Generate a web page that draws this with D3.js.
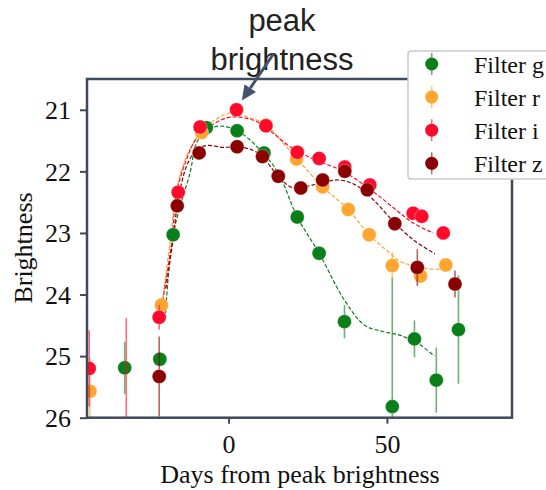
<!DOCTYPE html>
<html>
<head>
<meta charset="utf-8">
<script src="https://cdn.jsdelivr.net/npm/d3@7"></script>
<style>
  body { margin: 0; background: #fff; }
  svg { display: block; }
</style>
</head>
<body>
<svg width="546" height="490"></svg>
<script>
// observations per filter: day, brightness, error
const filters = ["Filter g", "Filter r", "Filter i", "Filter z"];
const colors = ["#0a7f1a", "#ffa530", "#ff0a2a", "#8b0000"];

const days_g = [-32.8, -21.7, -17.5, -7.0, 2.7, 11.2, 21.7, 28.6, 36.6, 51.7, 58.7, 65.6, 72.6];
const mag_g  = [25.19, 25.05, 23.03, 21.29, 21.34, 21.70, 22.74, 23.33, 24.44, 25.82, 24.72, 25.39, 24.57];
const err_g  = [0.42, 0.10, 0.08, 0.05, 0.05, 0.05, 0.05, 0.08, 0.27, 2.1, 0.30, 0.53, 0.88];

const days_r = [-43.8, -21.2, -8.5, 11.8, 21.5, 29.7, 37.8, 44.4, 51.7, 60.6, 68.6];
const mag_r  = [25.57, 24.17, 21.37, 21.25, 21.80, 22.25, 22.62, 23.03, 23.53, 23.70, 23.52];
const err_r  = [0.55, 0.12, 0.05, 0.05, 0.05, 0.05, 0.05, 0.05, 0.22, 0.10, 0.10];

const days_i = [-44.0, -32.3, -21.9, -15.9, -9.0, 2.5, 11.8, 21.7, 28.6, 36.7, 44.6, 58.3, 61.0, 67.8];
const mag_i  = [25.20, 26.40, 24.37, 22.34, 21.28, 21.00, 21.26, 21.69, 21.79, 21.93, 22.22, 22.68, 22.73, 23.00];
const err_i  = [0.62, 2.02, 0.20, 0.05, 0.05, 0.05, 0.05, 0.05, 0.05, 0.05, 0.05, 0.05, 0.05, 0.05];

const days_z = [-21.9, -16.2, -9.3, 2.7, 10.7, 15.7, 22.8, 29.7, 36.7, 43.8, 52.5, 59.6, 71.5];
const mag_z  = [25.33, 22.56, 21.70, 21.60, 21.76, 22.08, 22.27, 22.14, 22.00, 22.30, 22.85, 23.56, 23.83];
const err_z  = [0.65, 0.05, 0.05, 0.05, 0.05, 0.05, 0.05, 0.05, 0.05, 0.05, 0.05, 0.30, 0.22];

// smoothed fits
const fit_g_days = [-20.0, -17.5, -12.2, -9.6, -3.8, 2.7, 9.9, 15.7, 21.7, 28.6, 36.7, 43.0, 48.7, 54.0, 60.0, 65.0];
const fit_g_mag  = [24.40, 23.03, 22.03, 21.49, 21.27, 21.34, 21.65, 22.03, 22.74, 23.33, 24.10, 24.50, 24.60, 24.66, 24.80, 25.00];

const fit_r_days = [-21.0, -18.5, -16.4, -13.3, -9.6, -5.9, 0.9, 6.7, 11.8, 17.2, 21.7, 29.7, 37.8, 44.4, 51.0, 54.1, 61.5, 66.7];
const fit_r_mag  = [24.15, 23.17, 22.30, 21.76, 21.43, 21.22, 21.05, 21.13, 21.24, 21.54, 21.80, 22.25, 22.62, 23.03, 23.33, 23.46, 23.57, 23.59];

const fit_i_days = [-20.8, -18.0, -16.4, -13.3, -10.1, -5.9, -0.6, 3.6, 8.8, 14.1, 19.4, 26.7, 36.2, 45.7, 53.0, 58.3, 64.6];
const fit_i_mag  = [24.10, 23.17, 22.35, 21.81, 21.46, 21.27, 21.13, 21.12, 21.19, 21.38, 21.60, 21.80, 22.00, 22.33, 22.63, 22.84, 23.00];

const fit_z_days = [-19.8, -17.5, -16.2, -13.3, -10.1, -7.0, -1.7, 2.7, 7.8, 10.7, 15.7, 20.4, 26.7, 34.6, 40.4, 45.7, 52.0, 58.3, 65.2];
const fit_z_mag  = [23.90, 23.10, 22.56, 21.92, 21.65, 21.58, 21.61, 21.60, 21.66, 21.76, 22.08, 22.27, 22.22, 22.14, 22.23, 22.46, 22.81, 23.11, 23.34];

const xTicks = [0, 50];
const yTicks = [21, 22, 23, 24, 25, 26];

const series = [
  {days: days_g, mag: mag_g, err: err_g, fd: fit_g_days, fm: fit_g_mag},
  {days: days_r, mag: mag_r, err: err_r, fd: fit_r_days, fm: fit_r_mag},
  {days: days_i, mag: mag_i, err: err_i, fd: fit_i_days, fm: fit_i_mag},
  {days: days_z, mag: mag_z, err: err_z, fd: fit_z_days, fm: fit_z_mag}
];

const svg = d3.select("svg");
const spine = "#3f4a5c";
const serif = "Liberation Serif, Times New Roman, serif";

const x = d3.scaleLinear().domain([-44.7, 89.5]).range([87, 512]);
const y = d3.scaleLinear().domain([20.5, 26]).range([79, 417.7]);

svg.append("clipPath").attr("id", "plot")
   .append("rect")
   .attr("x", 87).attr("y", 79)
   .attr("width", 512 - 87).attr("height", 417.7 - 79);

const g = svg.append("g").attr("clip-path", "url(#plot)");

const line = d3.line()
  .x(d => x(d[0]))
  .y(d => y(d[1]))
  .curve(d3.curveCatmullRom.alpha(0.5));

series.forEach(function(s, k) {
  g.append("path")
   .datum(d3.zip(s.fd, s.fm))
   .attr("fill", "none")
   .attr("stroke", colors[k])
   .attr("stroke-width", 1.2)
   .attr("stroke-dasharray", "4,2")
   .attr("d", line);
});

series.forEach(function(s, k) {
  const pts = d3.zip(s.days, s.mag, s.err);
  const sg = g.append("g");
  sg.selectAll("line")
    .data(pts)
    .enter().append("line")
    .attr("x1", d => x(d[0])).attr("x2", d => x(d[0]))
    .attr("y1", d => y(d[1] - d[2])).attr("y2", d => y(d[1] + d[2]))
    .attr("stroke", colors[k])
    .attr("stroke-opacity", 0.6)
    .attr("stroke-width", 1.6);
  sg.selectAll("circle")
    .data(pts)
    .enter().append("circle")
    .attr("cx", d => x(d[0]))
    .attr("cy", d => y(d[1]))
    .attr("r", 7)
    .attr("fill", colors[k])
    .attr("stroke", "#fff")
    .attr("stroke-opacity", 0.5)
    .attr("stroke-width", 0.6);
});

// axes
const xAxis = svg.append("g")
  .attr("transform", "translate(0,417.7)")
  .call(d3.axisBottom(x).tickValues(xTicks).tickFormat(d3.format("d"))
          .tickSize(6).tickPadding(11).tickSizeOuter(0));
const yAxis = svg.append("g")
  .attr("transform", "translate(87,0)")
  .call(d3.axisLeft(y).tickValues(yTicks).tickFormat(d3.format("d"))
          .tickSize(7).tickPadding(9).tickSizeOuter(0));

[xAxis, yAxis].forEach(function(a) {
  a.attr("font-family", serif).attr("font-size", 26);
  a.select(".domain").remove();
  a.selectAll(".tick line").attr("stroke", spine).attr("stroke-width", 2);
  a.selectAll(".tick text").attr("fill", "#111");
});
xAxis.selectAll(".tick text").attr("dy", "0.71em");
yAxis.selectAll(".tick text").attr("dy", "0.34em");

svg.append("rect")
   .attr("x", 87).attr("y", 79)
   .attr("width", 512 - 87).attr("height", 417.7 - 79)
   .attr("fill", "none")
   .attr("stroke", spine)
   .attr("stroke-width", 2.5);

svg.append("text")
   .attr("x", 300).attr("y", 483)
   .attr("text-anchor", "middle")
   .attr("fill", "#111")
   .attr("font-family", serif)
   .attr("font-size", 26)
   .text("Days from peak brightness");

svg.append("text")
   .attr("transform", "translate(32,248) rotate(-90)")
   .attr("text-anchor", "middle")
   .attr("fill", "#111")
   .attr("font-family", serif)
   .attr("font-size", 26)
   .text("Brightness");

// annotation
const ann = svg.append("g")
  .attr("font-family", "Liberation Sans, Arial, sans-serif")
  .attr("font-size", 31)
  .attr("fill", "#222")
  .attr("text-anchor", "middle");
ann.append("text").attr("x", 282).attr("y", 31).text("peak");
ann.append("text").attr("x", 282).attr("y", 70).text("brightness");

const tail = [x(14.2), y(20.09)];
const tip = [x(4.2), y(20.85)];
const ang = Math.atan2(tip[1] - tail[1], tip[0] - tail[0]);
const hl = 15, hw = 7;
const base = [tip[0] - hl * Math.cos(ang), tip[1] - hl * Math.sin(ang)];
ann.append("line")
   .attr("x1", tail[0]).attr("y1", tail[1])
   .attr("x2", base[0]).attr("y2", base[1])
   .attr("stroke", "#44536a")
   .attr("stroke-width", 3);
ann.append("path")
   .attr("d", "M" + tip + "L" + [base[0] + hw * Math.sin(ang), base[1] - hw * Math.cos(ang)] +
              "L" + [base[0] - hw * Math.sin(ang), base[1] + hw * Math.cos(ang)] + "Z")
   .attr("fill", "#44536a");

// legend
const lg = svg.append("g");
lg.append("rect")
  .attr("x", 408).attr("y", 51)
  .attr("width", 160).attr("height", 128)
  .attr("rx", 3)
  .attr("fill", "#fff")
  .attr("stroke", "#cccccc")
  .attr("stroke-width", 1.5);

const item = lg.selectAll(".item")
  .data(filters)
  .enter().append("g")
  .attr("transform", (d, i) => `translate(0, ${64 + i * 33.1})`);
item.append("line")
  .attr("x1", 431.7).attr("x2", 431.7)
  .attr("y1", -11).attr("y2", 11)
  .attr("stroke", (d, i) => colors[i])
  .attr("stroke-opacity", 0.6)
  .attr("stroke-width", 1.6);
item.append("circle")
  .attr("cx", 431.7).attr("cy", 0).attr("r", 6.5)
  .attr("fill", (d, i) => colors[i]);
item.append("text")
  .attr("x", 474).attr("y", 9)
  .attr("fill", "#111")
  .attr("font-family", serif)
  .attr("font-size", 24)
  .text(d => d);
</script>
</body>
</html>
